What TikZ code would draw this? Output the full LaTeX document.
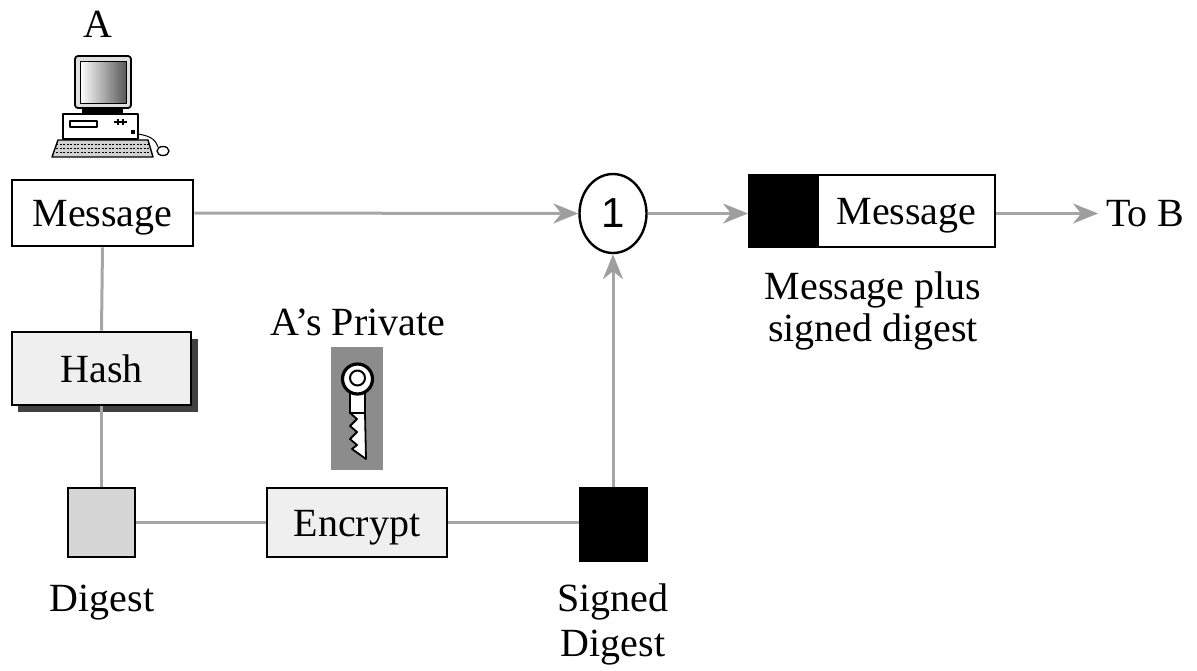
\documentclass[tikz,border=0pt]{standalone}
\usepackage{fontspec}
\setmainfont{Liberation Serif}
\newfontfamily\digitfont{Liberation Sans}
\usetikzlibrary{arrows.meta,shapes.geometric}
\definecolor{linkgray}{HTML}{A6A6A6}
\definecolor{tipgray}{HTML}{9E9E9E}
\definecolor{paleface}{HTML}{EFEFEF}
\definecolor{digestface}{HTML}{D6D6D6}
\definecolor{shadowgray}{HTML}{404040}
\definecolor{keyface}{HTML}{8C8C8C}
\begin{document}
\begin{tikzpicture}[x=1pt,y=-1pt,
  txt/.style={font=\fontsize{40}{44}\selectfont, inner sep=0pt},
  lbl/.style={txt, anchor=base},
  box/.style={txt, draw=black, line width=2.6pt, text height=27pt, text depth=0pt},
  link/.style={draw=linkgray, line width=3pt},
  arr/.style={link, -{Stealth[length=25pt,width=20pt,inset=8pt,color=tipgray]}},
]
\useasboundingbox (0,0) rectangle (1197,670);

% computer of A
\node[lbl] (nameA) at (98,37) {A};
\begin{scope}[line join=round]
  \filldraw[fill=gray!25, draw=black, line width=1.8pt, rounded corners=3pt]
    (75,56) rectangle (131,108);
  \shade[left color=white, right color=gray!70!black] (80,61) rectangle (126,103);
  \draw[black, line width=0.8pt] (80,61) rectangle (126,103);
  \fill[black] (82,108) rectangle (123,114);
  \filldraw[fill=white, draw=black, line width=1.6pt] (63,114) rectangle (138,139);
  \draw[black, line width=1.2pt] (70,121) rectangle (97,127);
  \draw[black, line width=1.4pt] (114,122) -- (127,122);
  \draw[black, line width=1.2pt] (118,119) -- (118,125) (123,119) -- (123,125);
  \fill[black] (131,130) rectangle (135,134);
  \filldraw[fill=gray!35, draw=black, line width=1.4pt]
    (58,140) -- (148,140) -- (153,157) -- (52,157) -- cycle;
  \foreach \r in {144,148,152}
    \draw[black, line width=0.7pt, dash pattern=on 2pt off 1.5pt] (56,\r) -- (150,\r);
  \draw[black, line width=1pt] (138,134) .. controls (152,136) and (156,141) .. (158,147);
  \draw[black, line width=1.3pt, fill=white] (163,151) ellipse [x radius=6, y radius=4.5];
\end{scope}

% boxes of the signing chain
\node[box, fill=white, minimum width=181pt, minimum height=66pt] (msg) at (102.5,213) {Message};
\fill[shadowgray] (18,339) rectangle (198,412);
\node[box, fill=paleface, minimum width=179pt, minimum height=73pt] (hash) at (101.5,368.5) {Hash};
\node[draw=black, line width=2.6pt, fill=digestface, minimum width=67pt, minimum height=69pt, inner sep=0pt] (digest) at (101.5,522.5) {};
\node[box, fill=paleface, minimum width=180pt, minimum height=69pt] (encrypt) at (357,522.5) {Encrypt};
\node[draw=black, line width=2pt, fill=black, minimum width=67pt, minimum height=73pt, inner sep=0pt] (signed) at (613,524.5) {};
\node[ellipse, draw=black, line width=2.4pt, fill=white, minimum width=67pt, minimum height=79pt, inner sep=0pt,
  font=\digitfont\fontsize{42}{44}\selectfont] (one) at (613,213.5) {1};
\node[draw=black, line width=2pt, fill=black, minimum width=69pt, minimum height=72pt, inner sep=0pt] (sigpart) at (783.5,211) {};
\node[box, fill=white, minimum width=177pt, minimum height=72pt] (msgpart) at (906.5,211) {Message};
\node[lbl, anchor=base west] (tob) at (1106,226) {To B};

% private key
\node[fill=keyface, minimum width=52pt, minimum height=123pt, inner sep=0pt] (keybox) at (357,408.5) {};
\begin{scope}[line join=round, draw=black]
  \filldraw[fill=white, line width=1.8pt]
    (350,392) -- (350,413) -- (357,419) -- (350,426) -- (357,432) -- (350,439)
    -- (357,445) -- (352,449) -- (366,459) -- (365,413) -- (365,392) -- cycle;
  \draw[line width=1.6pt] (350,413) -- (365,413);
  \filldraw[fill=white, line width=3.2pt] (357.5,379) circle [radius=15];
  \draw[line width=2pt] (357.5,378) circle [radius=7.5];
\end{scope}

% labels
\node[lbl] (privlbl) at (358,335) {A’s Private};
\node[lbl] (digestlbl) at (102,611) {Digest};
\node[lbl] (signedlbl) at (613,611) {Signed};
\node[lbl] (signed2lbl) at (613,656) {Digest};
\node[lbl] (pluslbl) at (873,299) {Message plus};
\node[lbl] (plus2lbl) at (873,341) {signed digest};

% connectors
\draw[link] (msg.south) -- (hash.north);
\draw[link] (hash.south) -- (digest.north);
\draw[link] (digest.east) -- (encrypt.west);
\draw[link] (encrypt.east) -- (signed.west |- encrypt.east);
\draw[arr] (msg.east) -- (one.west);
\draw[arr] (signed.north) -- (one.south);
\draw[arr] (one.east) -- (sigpart.west |- one.east);
\draw[arr] (msgpart.east |- one.east) -- ([xshift=-8pt]tob.west |- one.east);
\end{tikzpicture}
\end{document}
